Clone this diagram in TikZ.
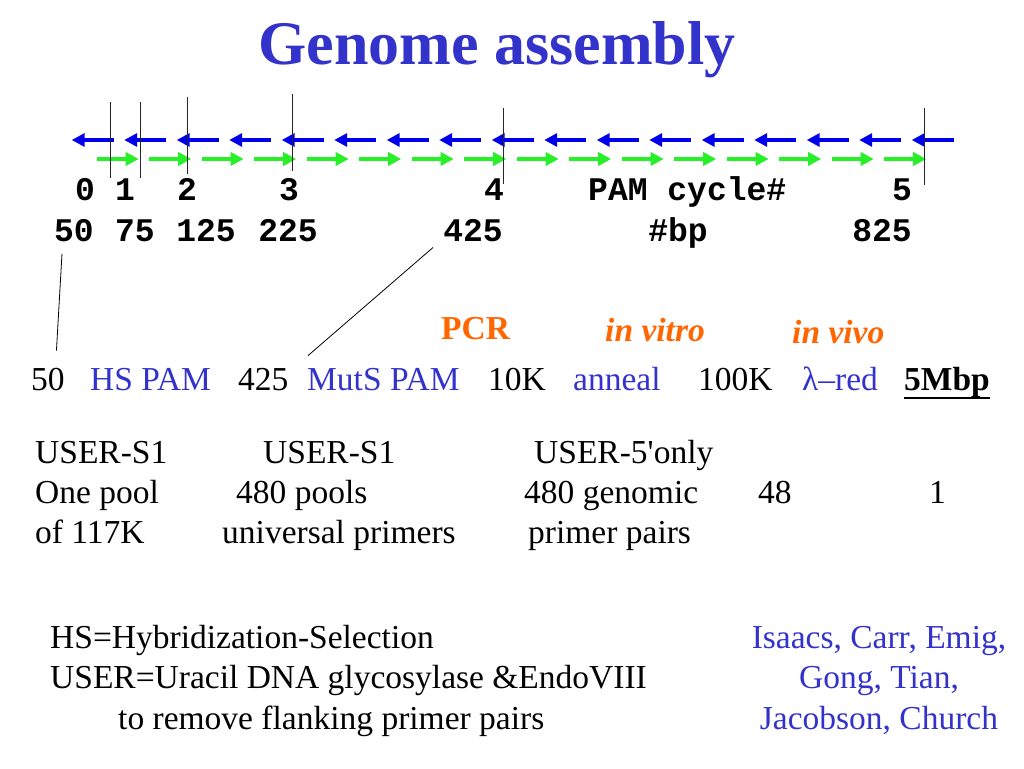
\documentclass[tikz,border=0pt]{standalone}
\usepackage{fontspec}
\setmainfont{Liberation Serif}
\setmonofont{Liberation Mono}
\newfontfamily\straightrm{Liberation Serif}[Ligatures=ResetAll]
\usepackage{tikz}
\usetikzlibrary{calc}
\usetikzlibrary{arrows.meta}
\usetikzlibrary{positioning}

\definecolor{titleblue}{RGB}{51,51,204}
\definecolor{revblue}{RGB}{0,0,235}
\definecolor{fwdgreen}{RGB}{40,240,40}
\definecolor{pcrorange}{RGB}{255,102,0}

\tikzset{
  txt/.style={inner sep=0pt,anchor=base west,font=\fontsize{33.5}{40}\selectfont},
  mono/.style={inner sep=0pt,anchor=base,font=\fontsize{33}{40}\selectfont\ttfamily\bfseries},
  bluetxt/.style={txt,text=titleblue},
  orangetxt/.style={txt,text=pcrorange,font=\fontsize{33.5}{40}\selectfont\bfseries},
  revarrow/.style={revblue,line width=4pt,-{Triangle[length=13pt,width=13pt]}},
  fwdarrow/.style={fwdgreen,line width=4pt,-{Triangle[length=13pt,width=13pt]}},
  tick/.style={line width=1.2pt,black!85}
}

\begin{document}
\begin{tikzpicture}[x=1pt,y=-1pt]
\useasboundingbox[fill=white] (0,0) rectangle (1024,768);

\node[inner sep=0pt,anchor=base,text=titleblue,font=\fontsize{62}{70}\selectfont\bfseries] (title) at (497,64) {Genome assembly};

\foreach \i in {0,...,16}
  \draw[revarrow] ({71.7+52.5*\i+42},140) -- ({71.7+52.5*\i},140);
\foreach \i in {0,...,15}
  \draw[fwdarrow] ({96.7+52.5*\i},159) -- ({96.7+52.5*\i+42},159);

\draw[tick] (110.7,102) -- (110.7,178);
\draw[tick] (140.7,102) -- (140.7,178);
\draw[tick] (187.7,97) -- (187.7,174);
\draw[tick] (292.7,94) -- (292.7,171);
\draw[tick] (503.3,108) -- (503.3,184);
\draw[tick] (924.3,108) -- (924.3,185);

\node[mono] (cyc0) at (85,200) {0};
\node[mono] (cyc1) at (125,200) {1};
\node[mono] (cyc2) at (187,200) {2};
\node[mono] (cyc3) at (289,200) {3};
\node[mono] (cyc4) at (494,200) {4};
\node[mono,anchor=base west] (cyclab) at (588,200) {PAM cycle\#};
\node[mono] (cyc5) at (902,200) {5};

\node[mono] (bp50) at (74,241) {50};
\node[mono] (bp75) at (135,241) {75};
\node[mono] (bp125) at (206,241) {125};
\node[mono] (bp225) at (288,241) {225};
\node[mono] (bp425) at (473,241) {425};
\node[mono] (bplab) at (678,241) {\#bp};
\node[mono] (bp825) at (882,241) {825};

\node[orangetxt] (pcr) at (441,339) {PCR};
\node[orangetxt,font=\fontsize{33.5}{40}\selectfont\bfseries\itshape] (vitro) at (605,341) {in vitro};
\node[orangetxt,font=\fontsize{33.5}{40}\selectfont\bfseries\itshape] (vivo) at (792,343) {in vivo};

\node[txt] (r50) at (31,390) {50};
\node[bluetxt] (rhs) at (90,390) {HS PAM};
\node[txt] (r425) at (238,390) {425};
\node[bluetxt] (rmuts) at (307,390) {MutS PAM};
\node[txt] (r10k) at (488,390) {10K};
\node[bluetxt] (ranneal) at (573,390) {anneal};
\node[txt] (r100k) at (698,390) {100K};
\node[bluetxt] (rred) at (802,390) {λ–red};
\node[txt,font=\fontsize{33.5}{40}\selectfont\bfseries] (r5m) at (904,390) {5Mbp};
\draw[line width=2pt] ([yshift=-8pt]r5m.base west) -- ([yshift=-8pt]r5m.base east);

\draw[line width=0.8pt] ([xshift=-12pt,yshift=-12pt]bp50.south) -- ([xshift=8.5pt,yshift=17pt]r50.north);
\draw[line width=0.8pt] ([xshift=-40pt,yshift=-6pt]bp425.south) -- ([xshift=1pt,yshift=12pt]rmuts.north west);

\node[txt] (u1a) at (35,463) {USER-S1};
\node[txt] (u1b) at (35,503) {One pool};
\node[txt] (u1c) at (35,543) {of 117K};
\node[txt] (u2a) at (263,463) {USER-S1};
\node[txt] (u2b) at (236,503) {480 pools};
\node[txt] (u2c) at (222,543) {universal primers};
\node[txt] (u3a) at (534,463) {\straightrm USER-5'only};
\node[txt] (u3b) at (524,503) {480 genomic};
\node[txt] (u3c) at (528,543) {primer pairs};
\node[txt] (u4b) at (758,503) {48};
\node[txt] (u5b) at (929,503) {1};

\node[txt] (hsdef) at (50,648) {HS=Hybridization-Selection};
\node[txt] (userdef) at (50,688) {USER=Uracil DNA glycosylase \&EndoVIII};
\node[txt] (userdef2) at (118,729) {to remove flanking primer pairs};

\node[bluetxt,anchor=base] (auth1) at (879,648) {Isaacs, Carr, Emig,};
\node[bluetxt,anchor=base] (auth2) at (879,688) {Gong, Tian,};
\node[bluetxt,anchor=base] (auth3) at (879,729) {Jacobson, Church};

\end{tikzpicture}
\end{document}
